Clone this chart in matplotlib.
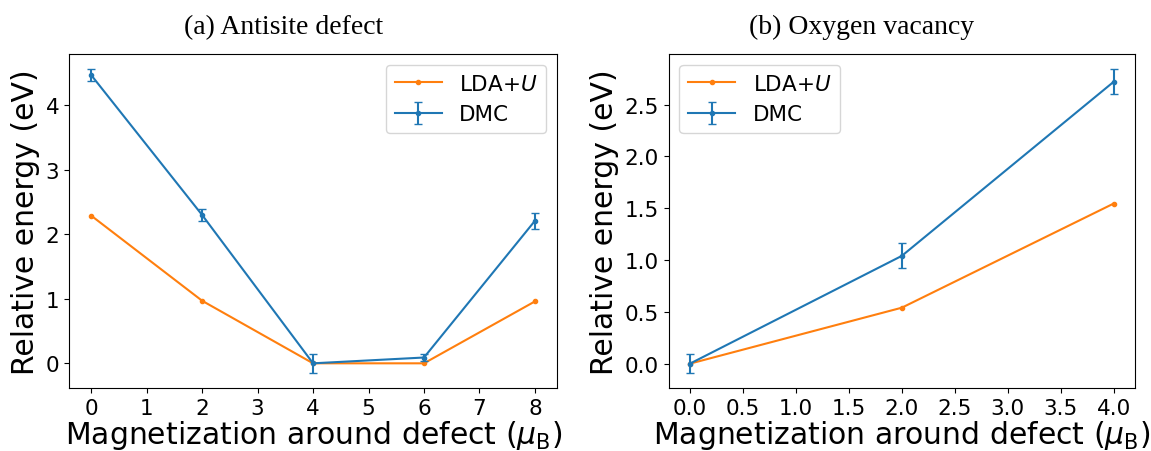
import numpy as np
import matplotlib
matplotlib.use('Agg')
import matplotlib.pyplot as plt

# Antisite defect data:
anti_mag = [0, 2, 4, 6, 8]
anti_lda = [2.29, 0.97, 0.0, 0.0, 0.96]
anti_dmc = [4.47, 2.30, 0.0, 0.09, 2.21]
anti_dmc_err = [0.09, 0.10, 0.15, 0.06, 0.12]

# Oxygen vacancy data:
vac_mag = [0.0, 2.0, 4.0]
vac_lda = [0.0, 0.54, 1.545]
vac_dmc = [0.0, 1.04, 2.72]
vac_dmc_err = [0.09, 0.12, 0.12]

titles = ['(a) Antisite defect', '(b) Oxygen vacancy']
title_x = [0.44, 0.414]  # titles sit a bit left of the axes centre

fig = plt.figure(figsize=(11.51, 4.52), dpi=100)
ax1 = fig.add_axes([0.060, 0.139, 0.424, 0.739])
ax2 = fig.add_axes([0.581, 0.139, 0.405, 0.739])

panels = [(ax1, anti_mag, anti_lda, anti_dmc, anti_dmc_err, 'upper right'),
          (ax2, vac_mag, vac_lda, vac_dmc, vac_dmc_err, 'upper left')]

for i, (ax, mag, lda, dmc, err, loc) in enumerate(panels):
    ax.plot(mag, lda, '.-', color='C1', markersize=6, label='LDA+$U$')
    ax.errorbar(mag, dmc, yerr=err, fmt='.-', color='C0', markersize=6,
                capsize=3, label='DMC')
    ax.set_title(titles[i], fontsize=20, family='Liberation Serif', pad=15,
                 x=title_x[i])
    ax.set_xlabel(r'Magnetization around defect ($\mu_\mathrm{B}$)', fontsize=21.5, labelpad=0)
    ax.set_ylabel('Relative energy (eV)', fontsize=21.5, labelpad=4)
    ax.tick_params(labelsize=15.5)
    ax.legend(loc=loc, fontsize=15.5, handlelength=2.2)

ax1.set_xticks(np.arange(0, 9, 1))
ax2.set_xticks(np.arange(0, 4.5, 0.5))
ax2.set_yticks(np.arange(0, 3.0, 0.5))

fig.savefig('out.png', dpi=100)
